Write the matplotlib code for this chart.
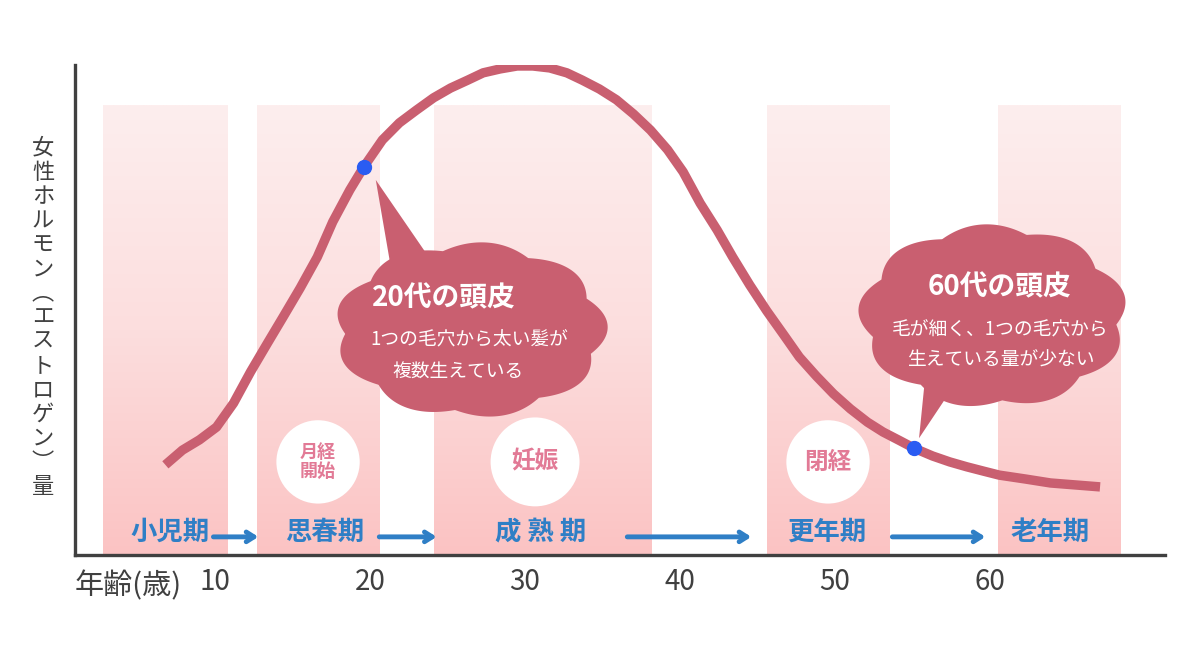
import numpy as np
import matplotlib
matplotlib.use("Agg")
import matplotlib.pyplot as plt
from matplotlib.colors import LinearSegmentedColormap
from matplotlib.patches import Polygon
from matplotlib.transforms import IdentityTransform

plt.rcParams['font.family'] = ['Noto Sans CJK JP', 'DejaVu Sans']

# estrogen curve (age, relative level 0-100)
ages = [6.8, 7.9, 9.0, 10.1, 11.2, 12.3, 13.4, 14.4, 15.5, 16.6, 17.6, 18.7,
        19.6, 20.8, 21.9, 23.0, 24.1, 25.2, 26.3, 27.3, 28.4, 29.5, 30.5,
        31.6, 32.7, 33.7, 34.8, 35.9, 37.0, 38.1, 39.2, 40.2, 41.3, 42.4,
        43.4, 44.5, 45.6, 46.7, 47.7, 48.8, 49.9, 51.0, 52.1, 53.1, 54.2,
        55.1, 56.3, 57.4, 58.5, 59.6, 60.6, 62.3, 63.9, 65.5, 67.1]
estrogen = [18.4, 21.4, 23.5, 26.1, 31.0, 37.4, 43.3, 48.6, 54.5, 60.8, 68.0,
            74.5, 79.2, 84.7, 88.2, 90.8, 93.3, 95.3, 96.9, 98.4, 99.2, 99.8,
            99.8, 99.4, 98.4, 96.9, 95.1, 92.9, 90.0, 86.7, 82.7, 78.2, 71.8,
            66.3, 60.8, 55.1, 49.8, 44.9, 40.4, 36.5, 32.9, 29.8, 27.1, 25.1,
            23.3, 21.8, 20.2, 19.0, 18.0, 17.1, 16.3, 15.5, 14.7, 14.3, 13.9]

# highlighted points (20s / 60s scalp)
point_ages = [19.6, 55.1]
point_levels = [79.2, 21.8]

# life stage bands
band_start = [2.8, 12.7, 24.1, 45.6, 60.5]
band_end = [10.8, 20.6, 38.1, 53.5, 68.4]
band_top = 91.8

stage_names = ['小児期', '思春期', '成 熟 期', '更年期', '老年期']
stage_ages = [7.1, 17.1, 31.0, 49.5, 63.9]
arrow_from = [9.9, 20.6, 36.6, 53.7]
arrow_to = [12.8, 24.3, 44.6, 59.7]

event_names = ['月経\n開始', '妊娠', '閉経']
event_ages = [16.65, 30.65, 49.55]
event_level = 19.0
event_sizes = [3600, 4100, 3600]

x_ticks = [10, 20, 30, 40, 50, 60]
y_label = '女性ホルモン︵エストロゲン︶量'

curve_col = '#c95f70'
blue = '#2f7fc6'
dot_col = '#2a5cf2'
pink_txt = '#e27a96'
ink = '#404040'

fig = plt.figure(figsize=(12, 6.6), dpi=100)
ax = fig.add_axes([75 / 1200, 105 / 660, 1090 / 1200, 490 / 660])
ax.set_xlim(0.97, 71.29)
ax.set_ylim(0, 100)

# gradient bands
band_cmap = LinearSegmentedColormap.from_list('band', ['#fbc3c3', '#fcdede', '#fdeeee'])
grad = np.linspace(0, 1, 256).reshape(-1, 1)
for s, e in zip(band_start, band_end):
    ax.imshow(grad, extent=[s, e, 0, band_top], origin='lower', aspect='auto',
              cmap=band_cmap, zorder=0)

# event circles
ax.scatter(event_ages, [event_level] * len(event_ages), s=event_sizes,
           c='white', zorder=2, linewidths=0)
for name, a in zip(event_names, event_ages):
    fs = 13 if '\n' in name else 17
    ax.text(a, event_level, name, ha='center', va='center', fontsize=fs,
            color=pink_txt, fontweight='bold', linespacing=1.05, zorder=3)

# curve
ax.plot(ages, estrogen, color=curve_col, lw=6.8, solid_capstyle='butt',
        solid_joinstyle='round', zorder=3)

ax.set_xlim(0.97, 71.29)
ax.set_ylim(0, 100)


def cloud(dot, offset, rx, ry, tail, lobes, phase):
    px, py = ax.transData.transform(dot)
    cx, cy = px + offset[0], py + offset[1]
    t = np.linspace(0, 2 * np.pi, 900)
    bump = 1 + 0.09 * np.abs(np.sin(lobes * (t + phase) / 2))
    xs = cx + rx / 1.09 * bump * np.cos(t)
    ys = cy + ry / 1.09 * bump * np.sin(t)
    ax.add_patch(Polygon(np.column_stack([xs, ys]), closed=True,
                         transform=IdentityTransform(), fc=curve_col, ec='none',
                         zorder=4))
    pts = [(px + dx, py + dy) for dx, dy in tail]
    ax.add_patch(Polygon(pts, closed=True, transform=IdentityTransform(),
                         fc=curve_col, ec='none', zorder=4))


cloud((point_ages[0], point_levels[0]), (107, -163), 137, 88,
      [(12, -13), (27, -100), (69, -96)], 9, 0.3)
cloud((point_ages[1], point_levels[1]), (79, 132), 135, 92,
      [(5, 10), (11, 70), (43, 67)], 9, 0.1)

bubble_text = [
    (0, '20代の頭皮', (80, -131), 20),
    (0, '1つの毛穴から太い髪が', (106, -173), 13.5),
    (0, '複数生えている', (94, -205), 13.5),
    (1, '60代の頭皮', (85, 161), 20),
    (1, '毛が細く、1つの毛穴から', (86, 118), 13.5),
    (1, '生えている量が少ない', (87, 88), 13.5),
]
for i, txt, off, fs in bubble_text:
    ax.annotate(txt, xy=(point_ages[i], point_levels[i]), xytext=off,
                textcoords='offset pixels', ha='center', va='center',
                fontsize=fs, color='white', zorder=6,
                fontweight='bold' if fs > 15 else 'normal')

ax.plot(point_ages, point_levels, 'o', color=dot_col, ms=10, zorder=5)

# stages and arrows
for name, a in zip(stage_names, stage_ages):
    ax.text(a, 4.6, name, ha='center', va='center', fontsize=19,
            fontweight='bold', color=blue, zorder=3)
for a0, a1 in zip(arrow_from, arrow_to):
    ax.annotate('', xy=(a1, 3.7), xytext=(a0, 3.7),
                arrowprops=dict(arrowstyle='->,head_length=0.55,head_width=0.35',
                                lw=3.5, color=blue, shrinkA=0, shrinkB=0),
                zorder=3)

# axes
for side in ['top', 'right']:
    ax.spines[side].set_visible(False)
for side in ['left', 'bottom']:
    ax.spines[side].set_color(ink)
    ax.spines[side].set_linewidth(2.4)
ax.set_yticks([])
ax.set_xticks(x_ticks)
ax.set_xticklabels([str(v) for v in x_ticks])
ax.tick_params(axis='x', length=0, pad=9, labelsize=20, labelcolor=ink)

fig.text(75 / 1200, 1 - 586 / 660, '年齢(歳)', ha='left', va='center',
         fontsize=21, color=ink)
for i, ch in enumerate(y_label):
    fig.text(43 / 1200, 1 - (148 + i * 24.2) / 660, ch, ha='center',
             va='center', fontsize=16, color=ink)

fig.savefig('out.png', dpi=100)
